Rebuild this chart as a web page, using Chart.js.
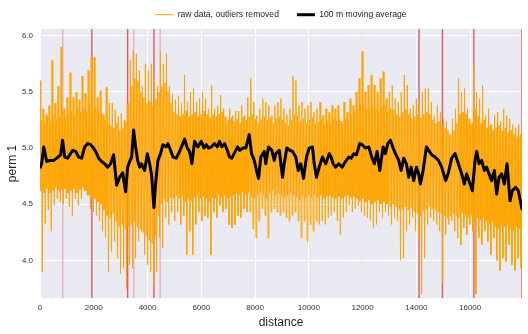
<!DOCTYPE html>
<html>
<head>
<meta charset="utf-8">
<script src="https://cdn.jsdelivr.net/npm/chart.js@4.4.1/dist/chart.umd.min.js"></script>
<style>
  html, body { margin: 0; padding: 0; background: #fff; }
  #wrap { width: 528px; height: 334px; }
</style>
</head>
<body>
<div id="wrap"><canvas id="permChart" width="528" height="334"></canvas></div>
<script>
// raw readings per 112 m slot:
// the spike tips (rawHigh / rawLow) and the edges of the dense band (bandTop / bandBottom)
const rawStep = 112;
const rawHigh = [
  5.60, 5.35, 5.30, 5.38, 5.78, 5.40, 5.55, 5.90, 5.35, 5.45,
  5.67, 5.45, 5.50, 5.43, 5.64, 5.49, 5.69, 5.81, 5.81, 5.45,
  5.51, 5.30, 5.54, 5.40, 5.40, 5.34, 5.28, 5.31, 5.25, 5.40,
  5.78, 5.87, 5.84, 5.69, 5.55, 5.75, 5.69, 5.75, 5.62, 5.55,
  5.86, 5.75, 5.84, 5.55, 5.48, 5.43, 5.46, 5.40, 5.65, 5.41,
  5.50, 5.53, 5.41, 5.44, 5.50, 5.44, 5.35, 5.56, 5.35, 5.38,
  5.47, 5.35, 5.21, 5.35, 5.29, 5.33, 5.33, 5.38, 5.29, 5.45,
  5.62, 5.41, 5.29, 5.35, 5.44, 5.41, 5.38, 5.29, 5.38, 5.41,
  5.44, 5.35, 5.30, 5.35, 5.64, 5.60, 5.38, 5.41, 5.35, 5.38,
  5.41, 5.32, 5.35, 5.41, 5.29, 5.35, 5.32, 5.38, 5.35, 5.38,
  5.24, 5.41, 5.32, 5.44, 5.38, 5.50, 5.62, 5.86, 5.50, 5.56,
  5.65, 5.56, 5.50, 5.62, 5.68, 5.44, 5.50, 5.56, 5.44, 5.41,
  5.50, 5.65, 5.56, 5.35, 5.38, 5.44, 5.41, 5.50, 5.53, 5.53,
  5.41, 5.29, 5.38, 5.32, 5.26, 5.24, 5.12, 5.26, 5.35, 5.62,
  5.50, 5.53, 5.35, 5.21, 5.74, 5.50, 5.44, 5.56, 5.29, 5.35,
  5.21, 5.29, 5.32, 5.24, 5.35, 5.29, 5.26, 5.21, 5.18, 5.21, 5.12
];
const rawLow = [
  3.90, 4.33, 4.45, 4.26, 4.49, 4.55, 4.52, 4.50, 4.55, 4.48,
  4.40, 4.55, 4.49, 4.55, 4.62, 4.58, 4.46, 4.43, 4.40, 4.35,
  4.26, 4.20, 3.90, 4.08, 4.17, 4.02, 3.88, 3.93, 3.75, 3.96,
  3.93, 4.02, 4.17, 4.26, 4.05, 3.96, 3.90, 3.78, 3.90, 4.20,
  4.11, 4.38, 4.32, 4.43, 4.35, 4.43, 4.32, 4.40, 4.05, 4.26,
  4.05, 4.32, 4.43, 4.35, 4.40, 4.38, 4.05, 4.43, 4.38, 4.49,
  4.43, 4.46, 4.32, 4.29, 4.32, 4.40, 4.38, 4.46, 4.43, 4.43,
  4.28, 4.20, 4.35, 4.46, 4.40, 4.20, 4.43, 4.46, 4.43, 4.40,
  4.43, 4.38, 4.35, 4.40, 4.43, 4.35, 4.20, 4.35, 4.17, 4.32,
  4.26, 4.35, 4.32, 4.35, 4.32, 4.38, 4.40, 4.43, 4.35, 4.23,
  4.38, 4.43, 4.49, 4.43, 4.46, 4.49, 4.43, 4.40, 4.38, 4.35,
  4.29, 4.32, 4.43, 4.38, 4.43, 4.40, 4.32, 4.38, 4.35, 4.00,
  4.02, 4.26, 4.32, 4.38, 4.26, 4.20, 3.70, 4.02, 4.32, 4.38,
  4.35, 4.32, 4.26, 3.80, 4.23, 4.32, 4.35, 4.26, 4.20, 4.14,
  4.29, 4.23, 4.32, 4.26, 3.70, 4.20, 4.14, 4.26, 4.17, 4.05,
  4.20, 4.00, 3.91, 4.02, 3.99, 4.14, 3.96, 3.91, 4.02, 3.93, 4.20
];
const bandTop = [
  5.25, 5.22, 5.28, 5.24, 5.30, 5.26, 5.28, 5.32, 5.27, 5.30,
  5.33, 5.30, 5.35, 5.32, 5.36, 5.33, 5.38, 5.35, 5.36, 5.32,
  5.30, 5.25, 5.22, 5.20, 5.18, 5.22, 5.16, 5.18, 5.24, 5.40,
  5.55, 5.62, 5.60, 5.50, 5.45, 5.40, 5.42, 5.38, 5.44, 5.50,
  5.55, 5.58, 5.50, 5.40, 5.32, 5.30, 5.28, 5.30, 5.33, 5.28,
  5.30, 5.32, 5.28, 5.30, 5.33, 5.30, 5.27, 5.30, 5.28, 5.30,
  5.32, 5.28, 5.25, 5.27, 5.24, 5.26, 5.22, 5.28, 5.25, 5.28,
  5.30, 5.26, 5.22, 5.25, 5.28, 5.25, 5.27, 5.22, 5.26, 5.28,
  5.25, 5.22, 5.20, 5.25, 5.30, 5.28, 5.24, 5.26, 5.22, 5.25,
  5.27, 5.22, 5.24, 5.26, 5.20, 5.24, 5.22, 5.26, 5.24, 5.26,
  5.22, 5.26, 5.24, 5.30, 5.32, 5.35, 5.38, 5.40, 5.35, 5.36,
  5.38, 5.35, 5.33, 5.36, 5.38, 5.32, 5.35, 5.34, 5.30, 5.28,
  5.32, 5.35, 5.30, 5.26, 5.28, 5.30, 5.27, 5.30, 5.32, 5.30,
  5.25, 5.22, 5.24, 5.20, 5.18, 5.16, 5.12, 5.16, 5.22, 5.30,
  5.32, 5.30, 5.26, 5.22, 5.35, 5.28, 5.22, 5.25, 5.18, 5.20,
  5.16, 5.18, 5.20, 5.15, 5.18, 5.14, 5.16, 5.12, 5.10, 5.12, 5.08
];
const bandBottom = [
  4.62, 4.60, 4.64, 4.60, 4.62, 4.65, 4.62, 4.63, 4.64, 4.60,
  4.62, 4.64, 4.60, 4.63, 4.65, 4.62, 4.58, 4.56, 4.55, 4.52,
  4.50, 4.45, 4.40, 4.38, 4.42, 4.35, 4.30, 4.32, 4.28, 4.30,
  4.32, 4.35, 4.30, 4.28, 4.25, 4.22, 4.18, 4.15, 4.22, 4.40,
  4.50, 4.55, 4.52, 4.56, 4.55, 4.58, 4.55, 4.57, 4.52, 4.55,
  4.53, 4.56, 4.58, 4.55, 4.57, 4.55, 4.52, 4.56, 4.55, 4.58,
  4.56, 4.58, 4.55, 4.57, 4.58, 4.60, 4.58, 4.61, 4.59, 4.60,
  4.56, 4.55, 4.58, 4.60, 4.58, 4.55, 4.60, 4.62, 4.58, 4.60,
  4.58, 4.56, 4.58, 4.60, 4.58, 4.56, 4.54, 4.57, 4.55, 4.58,
  4.56, 4.58, 4.56, 4.58, 4.55, 4.57, 4.58, 4.56, 4.55, 4.57,
  4.55, 4.57, 4.58, 4.56, 4.57, 4.55, 4.53, 4.55, 4.52, 4.54,
  4.50, 4.52, 4.54, 4.50, 4.52, 4.50, 4.48, 4.50, 4.48, 4.45,
  4.46, 4.48, 4.45, 4.47, 4.44, 4.42, 4.40, 4.44, 4.46, 4.48,
  4.46, 4.45, 4.43, 4.42, 4.40, 4.38, 4.40, 4.42, 4.40, 4.38,
  4.42, 4.40, 4.38, 4.40, 4.35, 4.38, 4.36, 4.38, 4.35, 4.32,
  4.34, 4.30, 4.28, 4.32, 4.30, 4.32, 4.28, 4.26, 4.30, 4.28, 4.32
];

// 100 m moving average
const maDist = [
  0, 60, 140, 250, 360, 510, 620, 770, 840, 920, 1030, 1215, 1327, 1438, 1550, 1662, 1773, 1885, 1959, 2070,
  2182, 2293, 2405, 2516, 2628, 2739, 2851, 2962, 3074, 3185, 3260, 3334, 3408, 3483, 3557, 3632, 3706, 3780, 3892, 3992,
  4078, 4152, 4237, 4301, 4386, 4486, 4572, 4698, 4758, 4858, 4944, 5070, 5192, 5315, 5378, 5479, 5564, 5650, 5750, 5873,
  5999, 6096, 6185, 6271, 6371, 6494, 6594, 6680, 6765, 6865, 6966, 7051, 7137, 7285, 7349, 7434, 7534, 7657, 7783, 7869,
  7969, 8055, 8129, 8215, 8341, 8400, 8501, 8624, 8713, 8772, 8899, 9021, 9084, 9181, 9293, 9393, 9516, 9605, 9701, 9802,
  9913, 10014, 10136, 10200, 10285, 10385, 10508, 10631, 10757, 10830, 10906, 10991, 11114, 11240, 11363, 11485, 11575, 11671, 11772, 11894,
  11984, 12106, 12229, 12355, 12441, 12541, 12638, 12764, 12850, 12935, 13035, 13136, 13221, 13344, 13433, 13530, 13630, 13716, 13805, 13902,
  14002, 14087, 14151, 14251, 14374, 14459, 14571, 14697, 14820, 14942, 15091, 15192, 15314, 15440, 15563, 15686, 15786, 15872, 15998, 16083,
  16184, 16243, 16333, 16429, 16529, 16615, 16704, 16801, 16901, 16987, 17076, 17173, 17273, 17373, 17485, 17570, 17693, 17793, 17893, 17930
];
const maVal = [
  4.82, 4.86, 5.01, 4.88, 4.89, 4.89, 4.91, 4.94, 5.07, 4.92, 4.91, 4.98, 4.97, 4.92, 4.91, 5.01, 5.04, 5.03, 5.01, 4.97,
  4.91, 4.88, 4.86, 4.83, 4.86, 4.94, 4.67, 4.74, 4.78, 4.61, 4.83, 4.88, 4.92, 5.16, 5.01, 4.89, 4.83, 4.86, 4.80, 4.95,
  4.86, 4.76, 4.47, 4.68, 4.89, 4.95, 5.03, 5.01, 5.04, 4.98, 4.92, 4.91, 4.97, 5.04, 5.08, 5.00, 4.97, 4.86, 5.06, 5.01,
  5.06, 5.00, 5.03, 5.00, 5.01, 5.04, 5.01, 5.06, 5.01, 5.04, 4.98, 4.92, 4.91, 4.98, 5.01, 4.98, 5.00, 5.00, 5.12, 4.95,
  4.89, 4.80, 4.73, 4.92, 4.97, 4.86, 5.01, 4.98, 4.89, 4.95, 4.98, 4.74, 4.86, 5.00, 4.98, 4.97, 4.92, 4.80, 4.86, 4.73,
  4.92, 5.00, 5.01, 4.86, 4.74, 4.83, 4.92, 4.86, 4.95, 4.92, 4.86, 4.83, 4.86, 4.83, 4.88, 4.92, 4.91, 4.95, 4.94, 5.04,
  5.03, 5.00, 5.01, 4.91, 4.86, 4.97, 4.80, 5.01, 4.95, 5.04, 5.07, 5.00, 4.95, 4.89, 4.80, 4.91, 4.86, 4.74, 4.83, 4.71,
  4.83, 4.77, 4.68, 4.80, 5.01, 4.98, 4.94, 4.92, 4.89, 4.83, 4.71, 4.78, 4.91, 4.95, 4.86, 4.77, 4.68, 4.77, 4.68, 4.62,
  4.89, 4.97, 4.86, 4.89, 4.80, 4.83, 4.77, 4.71, 4.80, 4.59, 4.74, 4.77, 4.68, 4.86, 4.53, 4.62, 4.65, 4.62, 4.50, 4.45
];

// marked positions (vertical red lines)
const strongEvents = [1930, 3260, 4240, 14100, 14970, 16140, 17930];
const weakEvents = [850, 3490, 4470];
const faintEvents = [11990];

const xTicks = [0, 2000, 4000, 6000, 8000, 10000, 12000, 14000, 16000];
const yTicks = [4.0, 4.5, 5.0, 5.5, 6.0];
const xMax = 17930;
const yMin = 3.665;
const yMax = 6.06;

// each slot: spike up, band bottom, band top, spike down
const rawPoints = [];
rawHigh.forEach(function (v, i) {
    const x0 = i * rawStep;
    rawPoints.push({ x: x0, y: v });
    rawPoints.push({ x: x0 + rawStep / 4, y: bandBottom[i] });
    rawPoints.push({ x: x0 + rawStep / 2, y: bandTop[i] });
    rawPoints.push({ x: x0 + rawStep * 3 / 4, y: rawLow[i] });
});
const maPoints = maDist.map(function (d, i) { return { x: d, y: maVal[i] }; });

function eventSet(d, color, width) {
    return {
        label: 'event',
        data: [{ x: d, y: yMin }, { x: d, y: yMax }],
        borderColor: color,
        borderWidth: width,
        pointRadius: 0,
        order: 3
    };
}

const eventSets = []
    .concat(strongEvents.map(function (d) { return eventSet(d, 'rgba(226, 74, 84, 0.9)', 1.4); }))
    .concat(weakEvents.map(function (d) { return eventSet(d, 'rgba(226, 74, 84, 0.4)', 1.2); }))
    .concat(faintEvents.map(function (d) { return eventSet(d, 'rgba(226, 74, 84, 0.15)', 1.2); }));

// plot background, and the legend centred over the plot area like matplotlib does
const plotBg = {
    id: 'plotBg',
    beforeDraw: function (chart) {
        const a = chart.chartArea;
        const ctx = chart.ctx;
        ctx.save();
        ctx.fillStyle = '#EAEAF2';
        ctx.fillRect(a.left, a.top, a.right - a.left, a.bottom - a.top);
        ctx.restore();
        if (chart.legend) {
            chart.legend.left = a.left;
            chart.legend.right = a.right;
        }
    }
};

const font = "'Liberation Sans', Arial, sans-serif";

new Chart(document.getElementById('permChart').getContext('2d'), {
    type: 'line',
    data: {
        datasets: [{
            label: 'raw data, outliers removed',
            data: rawPoints,
            borderColor: 'orange',
            borderWidth: 1,
            pointRadius: 0,
            pointStyle: 'line',
            tension: 0,
            order: 2
        }, {
            label: '100 m moving average',
            data: maPoints,
            borderColor: '#000',
            borderWidth: 3,
            pointRadius: 0,
            pointStyle: 'line',
            borderJoinStyle: 'round',
            tension: 0,
            order: 1
        }].concat(eventSets)
    },
    options: {
        responsive: false,
        animation: false,
        devicePixelRatio: 1,
        layout: { padding: { left: 0, right: 6, top: -9, bottom: 0 } },
        plugins: {
            tooltip: { enabled: false },
            legend: {
                position: 'top',
                labels: {
                    filter: function (item) { return item.datasetIndex < 2; },
                    sort: function (a, b) { return a.datasetIndex - b.datasetIndex; },
                    usePointStyle: true,
                    pointStyleWidth: 18,
                    boxHeight: 8,
                    padding: 18,
                    color: '#262626',
                    font: { family: font, size: 8.6 }
                }
            }
        },
        scales: {
            x: {
                type: 'linear',
                min: 0,
                max: xMax,
                afterBuildTicks: function (s) { s.ticks = xTicks.map(function (v) { return { value: v }; }); },
                afterFit: function (s) { s.height = 36; },
                grid: { color: '#ffffff', lineWidth: 1, drawTicks: false },
                border: { display: false },
                ticks: {
                    padding: 5,
                    color: '#333',
                    maxRotation: 0,
                    font: { family: font, size: 8 },
                    callback: function (v) { return String(v); }
                },
                title: {
                    display: true,
                    text: 'distance',
                    color: '#262626',
                    font: { family: font, size: 12 },
                    padding: { top: 0, bottom: 4 }
                }
            },
            y: {
                type: 'linear',
                min: yMin,
                max: yMax,
                afterBuildTicks: function (s) { s.ticks = yTicks.map(function (v) { return { value: v }; }); },
                afterFit: function (s) { s.width = 40; s.paddingTop = 29; },
                grid: { color: '#ffffff', lineWidth: 1, drawTicks: false },
                border: { display: false },
                ticks: {
                    padding: 7,
                    color: '#333',
                    font: { family: font, size: 8 },
                    callback: function (v) { return Number(v).toFixed(1); }
                },
                title: {
                    display: true,
                    text: 'perm 1',
                    color: '#262626',
                    font: { family: font, size: 12 },
                    padding: { top: 5, bottom: 0 }
                }
            }
        }
    },
    plugins: [plotBg]
});
</script>
</body>
</html>
